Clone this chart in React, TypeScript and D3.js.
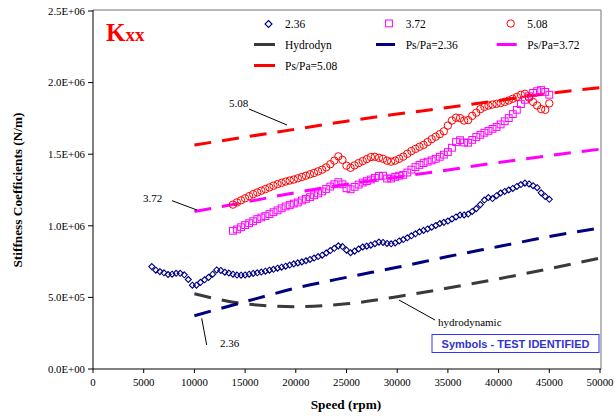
import React from "react";
import * as d3 from "d3";

// ---- data ----
const xTicks = [0, 5000, 10000, 15000, 20000, 25000, 30000, 35000, 40000, 45000, 50000];
const yTicks = [0, 5e5, 1e6, 1.5e6, 2e6, 2.5e6];
const yTickLabels = ["0.0E+00", "5.0E+05", "1.0E+06", "1.5E+06", "2.0E+06", "2.5E+06"];

// test data (speed start, step in rpm; values in 1e6 N/m)
const blueStart = 5800;
const blueStep = 400;
const blueVals = [
  0.715, 0.69, 0.68, 0.672, 0.66, 0.662, 0.668, 0.668, 0.658, 0.625,
  0.585, 0.585, 0.605, 0.623, 0.64, 0.662, 0.692, 0.688, 0.676, 0.67,
  0.662, 0.656, 0.655, 0.657, 0.662, 0.667, 0.672, 0.677, 0.683, 0.69,
  0.696, 0.704, 0.711, 0.718, 0.726, 0.734, 0.741, 0.748, 0.756, 0.765,
  0.775, 0.785, 0.795, 0.81, 0.827, 0.843, 0.86, 0.855, 0.83, 0.812,
  0.823, 0.838, 0.852, 0.858, 0.865, 0.875, 0.886, 0.884, 0.877, 0.874,
  0.88, 0.894, 0.904, 0.916, 0.93, 0.944, 0.958, 0.968, 0.978, 0.99,
  1.002, 1.016, 1.024, 1.033, 1.048, 1.062, 1.075, 1.076, 1.082, 1.1,
  1.12, 1.148, 1.18, 1.197, 1.19, 1.21, 1.229, 1.24, 1.25, 1.261,
  1.275, 1.288, 1.298, 1.292, 1.28, 1.266, 1.23, 1.205, 1.185,
];

const pinkStart = 13800;
const pinkStep = 400;
const pinkVals = [
  0.965, 0.975, 0.99, 1.005, 1.018, 1.032, 1.047, 1.058, 1.068, 1.082,
  1.095, 1.108, 1.122, 1.135, 1.145, 1.155, 1.163, 1.177, 1.188, 1.2,
  1.213, 1.226, 1.24, 1.257, 1.274, 1.29, 1.305, 1.29, 1.262, 1.255,
  1.272, 1.288, 1.302, 1.312, 1.323, 1.335, 1.348, 1.35, 1.33, 1.33,
  1.342, 1.35, 1.356, 1.372, 1.392, 1.41, 1.425, 1.438, 1.448, 1.457,
  1.468, 1.482, 1.497, 1.515, 1.545, 1.585, 1.598, 1.582, 1.58, 1.6,
  1.62, 1.635, 1.65, 1.663, 1.677, 1.69, 1.708, 1.73, 1.752, 1.78,
  1.81, 1.85, 1.88, 1.905, 1.928, 1.94, 1.948, 1.935, 1.915,
];

const redStart = 13800;
const redStep = 400;
const redVals = [
  1.148, 1.163, 1.178, 1.192, 1.207, 1.221, 1.233, 1.245, 1.256, 1.268,
  1.28, 1.291, 1.3, 1.309, 1.316, 1.323, 1.332, 1.341, 1.35, 1.36,
  1.369, 1.38, 1.392, 1.408, 1.43, 1.455, 1.485, 1.46, 1.42, 1.405,
  1.422, 1.438, 1.452, 1.466, 1.48, 1.482, 1.475, 1.468, 1.455, 1.448,
  1.455, 1.468, 1.483, 1.503, 1.522, 1.537, 1.552, 1.565, 1.585, 1.605,
  1.622, 1.64, 1.66, 1.7, 1.735, 1.755, 1.752, 1.735, 1.738, 1.768,
  1.79, 1.815, 1.83, 1.84, 1.847, 1.852, 1.857, 1.865, 1.875, 1.887,
  1.9, 1.915, 1.922, 1.895, 1.865, 1.84, 1.815, 1.81, 1.855,
];

// predictions
const predSpeeds = [10000, 15000, 20000, 25000, 30000, 35000, 40000, 45000, 50000];
const hydroVals = [0.525, 0.455, 0.435, 0.455, 0.505, 0.565, 0.63, 0.7, 0.775];
const ps236Vals = [0.372, 0.47, 0.565, 0.64, 0.71, 0.785, 0.855, 0.925, 0.985];
const ps372Vals = [1.1, 1.165, 1.232, 1.29, 1.34, 1.39, 1.442, 1.49, 1.535];
const ps508Vals = [1.564, 1.62, 1.675, 1.73, 1.78, 1.826, 1.875, 1.925, 1.965];

const C_NAVY = "#000080";
const C_MAG = "#FF00FF";
const C_RED = "#FF0000";
const C_GRAY = "#3a3a3a";

const W = 615;
const H = 419;
const M = { left: 93, right: 600, top: 11, bottom: 369 };
const serif = "'Liberation Serif', 'Times New Roman', serif";
const sans = "'Liberation Sans', Arial, sans-serif";

export default function App() {
  const x = d3.scaleLinear().domain([0, 50000]).range([M.left, M.right]);
  const y = d3.scaleLinear().domain([0, 2.5e6]).range([M.bottom, M.top]);

  const toPts = (start: number, step: number, vals: number[]) =>
    vals.map((v, i) => [start + i * step, v * 1e6] as [number, number]);
  const bluePts = toPts(blueStart, blueStep, blueVals);
  const pinkPts = toPts(pinkStart, pinkStep, pinkVals);
  const redPts = toPts(redStart, redStep, redVals);

  const line = d3
    .line<[number, number]>()
    .x((d) => x(d[0]))
    .y((d) => y(d[1]))
    .curve(d3.curveMonotoneX);
  const pred = (vals: number[]) =>
    line(predSpeeds.map((s, i) => [s, vals[i] * 1e6] as [number, number])) || "";

  const dash = "17,11";
  const lw = 3;

  return (
    <svg width={W} height={H} style={{ position: "absolute", left: 0, top: 0, background: "#fff" }}>
      <rect x={0} y={0} width={W} height={H} fill="#fff" />
      {/* plot border */}
      <line x1={M.left} x2={M.right + 1} y1={M.top - 1} y2={M.top - 1} stroke="#a0a0a0" strokeWidth={1.5} />
      <line x1={M.right + 1} x2={M.right + 1} y1={M.top - 1} y2={M.bottom} stroke="#a0a0a0" strokeWidth={1.5} />

      {/* prediction lines */}
      <path d={pred(hydroVals)} fill="none" stroke={C_GRAY} strokeWidth={lw} strokeDasharray={dash} />
      <path d={pred(ps236Vals)} fill="none" stroke={C_NAVY} strokeWidth={lw} strokeDasharray={dash} />
      <path d={pred(ps372Vals)} fill="none" stroke={C_MAG} strokeWidth={lw} strokeDasharray={dash} />
      <path d={pred(ps508Vals)} fill="none" stroke={C_RED} strokeWidth={lw} strokeDasharray={dash} />

      {/* markers */}
      {bluePts.map((d, i) => {
        const cx = x(d[0]);
        const cy = y(d[1]);
        const r = 3;
        return (
          <path
            key={"b" + i}
            d={`M${cx},${cy - r}L${cx + r},${cy}L${cx},${cy + r}L${cx - r},${cy}Z`}
            fill="none"
            stroke={C_NAVY}
            strokeWidth={1.1}
          />
        );
      })}
      {pinkPts.map((d, i) => (
        <rect
          key={"p" + i}
          x={x(d[0]) - 3.4}
          y={y(d[1]) - 3.4}
          width={6.8}
          height={6.8}
          fill="none"
          stroke={C_MAG}
          strokeWidth={1}
        />
      ))}
      {redPts.map((d, i) => (
        <circle key={"r" + i} cx={x(d[0])} cy={y(d[1])} r={3.7} fill="none" stroke={C_RED} strokeWidth={1} />
      ))}

      {/* axes */}
      <line x1={M.left} x2={M.left} y1={M.top - 1} y2={M.bottom} stroke="#000" strokeWidth={1} />
      <line x1={M.left} x2={M.right + 1} y1={M.bottom} y2={M.bottom} stroke="#000" strokeWidth={1} />
      {yTicks.map((t, i) => (
        <g key={"yt" + i}>
          <line x1={M.left - 5} x2={M.left} y1={y(t)} y2={y(t)} stroke="#000" />
          <text x={M.left - 8} y={y(t) + 3.7} textAnchor="end" fontFamily={serif} fontSize={10.8} fill="#000">
            {yTickLabels[i]}
          </text>
        </g>
      ))}
      {xTicks.map((t, i) => (
        <g key={"xt" + i}>
          <line x1={x(t)} x2={x(t)} y1={M.bottom} y2={M.bottom + 4} stroke="#000" />
          <text x={x(t)} y={M.bottom + 17} textAnchor="middle" fontFamily={serif} fontSize={10.8} fill="#000">
            {String(t)}
          </text>
        </g>
      ))}

      {/* axis titles */}
      <text x={346} y={409} textAnchor="middle" fontFamily={serif} fontSize={13.3} fontWeight="bold" fill="#000">
        Speed (rpm)
      </text>
      <text
        transform="translate(22,190) rotate(-90)"
        textAnchor="middle"
        fontFamily={serif}
        fontSize={13.3}
        fontWeight="bold"
        fill="#000"
      >
        Stiffness Coefficients (N/m)
      </text>

      {/* title */}
      <text x={106} y={41} fontFamily={serif} fontWeight="bold" fill={C_RED}>
        <tspan fontSize={25}>K</tspan>
        <tspan fontSize={19}>xx</tspan>
      </text>

      {/* legend */}
      <g fontFamily={serif} fontSize={11.5} fill="#000">
        <path d="M268.5,20.5L272,24L268.5,27.5L265,24Z" fill="none" stroke={C_NAVY} strokeWidth={1.1} />
        <text x={285} y={28}>2.36</text>
        <rect x={385.6} y={20} width={6.8} height={6.8} fill="none" stroke={C_MAG} strokeWidth={1} />
        <text x={405.7} y={28}>3.72</text>
        <circle cx={510.7} cy={23.5} r={3.7} fill="none" stroke={C_RED} strokeWidth={1} />
        <text x={527.3} y={28}>5.08</text>

        <line x1={254} x2={275} y1={44.5} y2={44.5} stroke={C_GRAY} strokeWidth={3} />
        <text x={285} y={49}>Hydrodyn</text>
        <line x1={376} x2={395} y1={44.5} y2={44.5} stroke={C_NAVY} strokeWidth={3} />
        <text x={405.7} y={49}>Ps/Pa=2.36</text>
        <line x1={496.7} x2={516.7} y1={44.5} y2={44.5} stroke={C_MAG} strokeWidth={3} />
        <text x={527.3} y={49}>Ps/Pa=3.72</text>

        <line x1={254} x2={275} y1={65.5} y2={65.5} stroke={C_RED} strokeWidth={3} />
        <text x={285} y={70}>Ps/Pa=5.08</text>
      </g>

      {/* annotations */}
      <g fontFamily={serif} fontSize={11} fill="#000">
        <text x={229} y={106.5}>5.08</text>
        <line x1={249} y1={109} x2={287} y2={125} stroke="#000" strokeWidth={1} />
        <text x={143} y={201.5}>3.72</text>
        <line x1={172} y1={200.7} x2={197} y2={210} stroke="#000" strokeWidth={1} />
        <text x={220} y={347}>2.36</text>
        <line x1={201.7} y1={318.3} x2={206.7} y2={345} stroke="#000" strokeWidth={1} />
        <text x={438} y={326}>hydrodynamic</text>
        <line x1={399} y1={300} x2={435} y2={320} stroke="#000" strokeWidth={1} />
      </g>

      {/* test identified box */}
      <rect x={432} y={334.5} width={167} height={18} fill="#fff" stroke="#3333ff" strokeWidth={1} />
      <text x={515.5} y={347.5} textAnchor="middle" fontFamily={sans} fontSize={11} fontWeight="bold" fill="#3333cc">
        Symbols - TEST IDENTIFIED
      </text>
    </svg>
  );
}
